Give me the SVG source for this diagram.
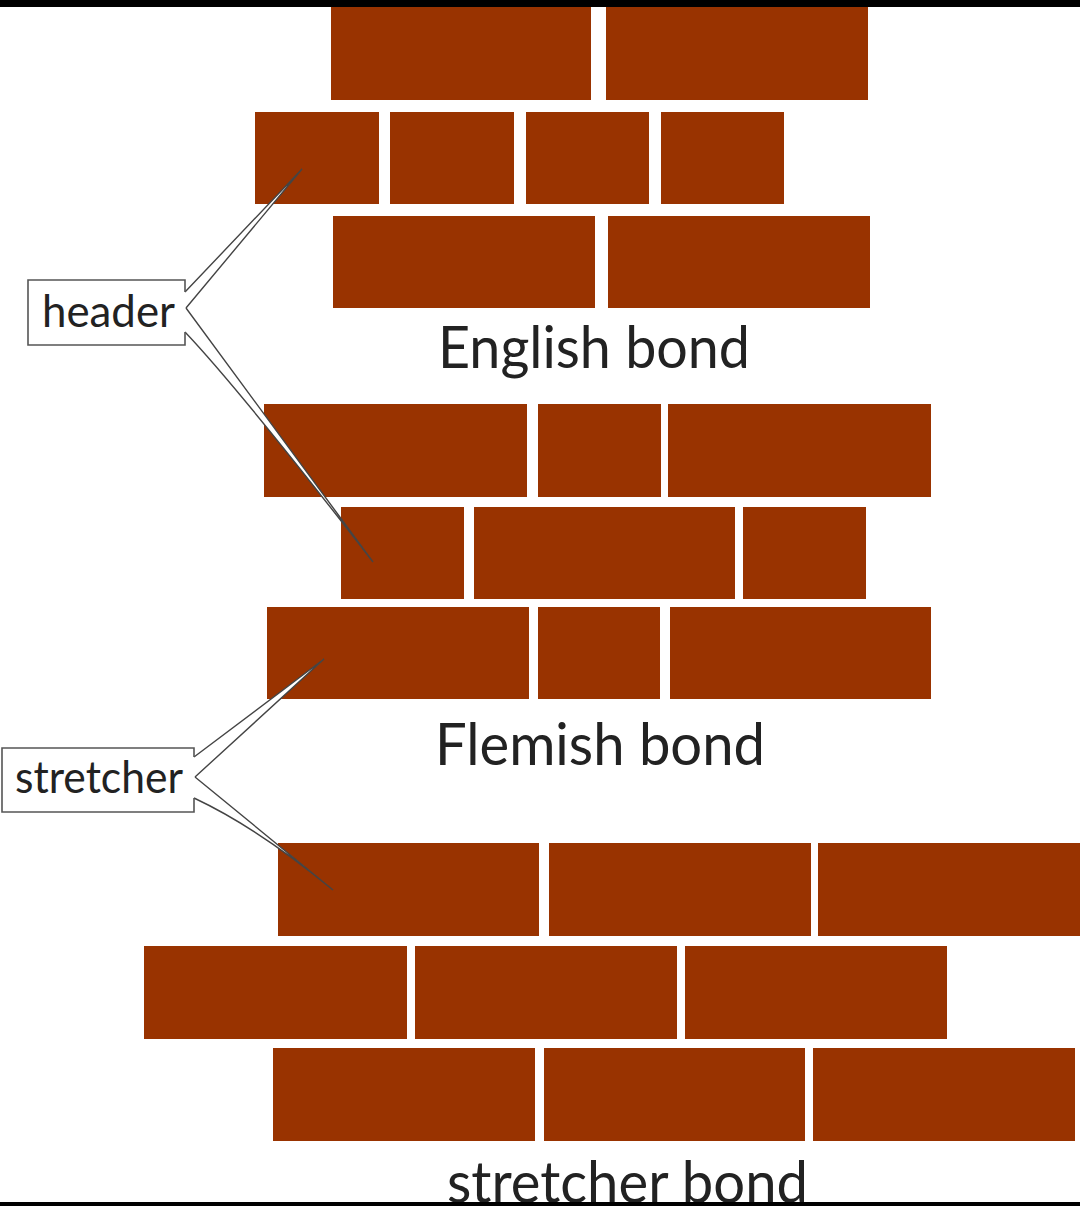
<svg xmlns="http://www.w3.org/2000/svg" width="1080" height="1206" viewBox="0 0 1080 1206">
  <style>
    .brick { fill: #993300; }
    .lbl { font-family: Lato, "Open Sans", "DejaVu Sans", sans-serif; fill: #222; }
    .box { fill: #fff; stroke: #555; stroke-width: 1.6; }
    .wedge { fill: #fff; stroke: #444; stroke-width: 1.4; stroke-linejoin: miter; }
  </style>
  <rect x="0" y="0" width="1080" height="1206" fill="#fff"/>

  <g id="english-bond">
    <rect class="brick" x="331" y="7" width="260" height="93"/>
    <rect class="brick" x="606" y="7" width="262" height="93"/>
    <rect class="brick" x="255" y="112" width="124" height="92"/>
    <rect class="brick" x="390" y="112" width="124" height="92"/>
    <rect class="brick" x="526" y="112" width="123" height="92"/>
    <rect class="brick" x="661" y="112" width="123" height="92"/>
    <rect class="brick" x="333" y="216" width="262" height="92"/>
    <rect class="brick" x="608" y="216" width="262" height="92"/>
    <text class="lbl" x="438" y="368" font-size="58" textLength="312" lengthAdjust="spacingAndGlyphs">English bond</text>
  </g>

  <g id="flemish-bond">
    <rect class="brick" x="264" y="404" width="263" height="93"/>
    <rect class="brick" x="538" y="404" width="123" height="93"/>
    <rect class="brick" x="668" y="404" width="263" height="93"/>
    <rect class="brick" x="341" y="507" width="123" height="92"/>
    <rect class="brick" x="474" y="507" width="261" height="92"/>
    <rect class="brick" x="743" y="507" width="123" height="92"/>
    <rect class="brick" x="267" y="607" width="262" height="92"/>
    <rect class="brick" x="538" y="607" width="122" height="92"/>
    <rect class="brick" x="670" y="607" width="261" height="92"/>
    <text class="lbl" x="435" y="765" font-size="58" textLength="330" lengthAdjust="spacingAndGlyphs">Flemish bond</text>
  </g>

  <g id="stretcher-bond">
    <rect class="brick" x="278" y="843" width="261" height="93"/>
    <rect class="brick" x="549" y="843" width="262" height="93"/>
    <rect class="brick" x="818" y="843" width="262" height="93"/>
    <rect class="brick" x="144" y="946" width="263" height="93"/>
    <rect class="brick" x="415" y="946" width="262" height="93"/>
    <rect class="brick" x="685" y="946" width="262" height="93"/>
    <rect class="brick" x="273" y="1048" width="262" height="93"/>
    <rect class="brick" x="544" y="1048" width="261" height="93"/>
    <rect class="brick" x="813" y="1048" width="262" height="93"/>
    <text class="lbl" x="447" y="1203" font-size="58" textLength="361" lengthAdjust="spacingAndGlyphs">stretcher bond</text>
  </g>

  <g id="connectors">
    <path class="wedge" d="M185,292 L302,169 L186,308"/>
    <path class="wedge" d="M186,308 L373,562 Q240,390 185,332"/>
    <path class="wedge" d="M194,757 L324,659 L195,777"/>
    <path class="wedge" d="M195,777 L333,890 Q258,828 194,798"/>
  </g>

  <g id="label-header">
    <path class="box" d="M185,292 V280 H28 V345 H185 V332"/>
    <text class="lbl" x="42" y="327" font-size="44" textLength="133" lengthAdjust="spacingAndGlyphs">header</text>
  </g>

  <g id="label-stretcher">
    <path class="box" d="M194,757 V748 H2 V812 H194 V798"/>
    <text class="lbl" x="15" y="793" font-size="44" textLength="168" lengthAdjust="spacingAndGlyphs">stretcher</text>
  </g>

  <rect x="0" y="0" width="1080" height="7" fill="#000"/>
  <rect x="0" y="1202" width="1080" height="4" fill="#000"/>
</svg>
